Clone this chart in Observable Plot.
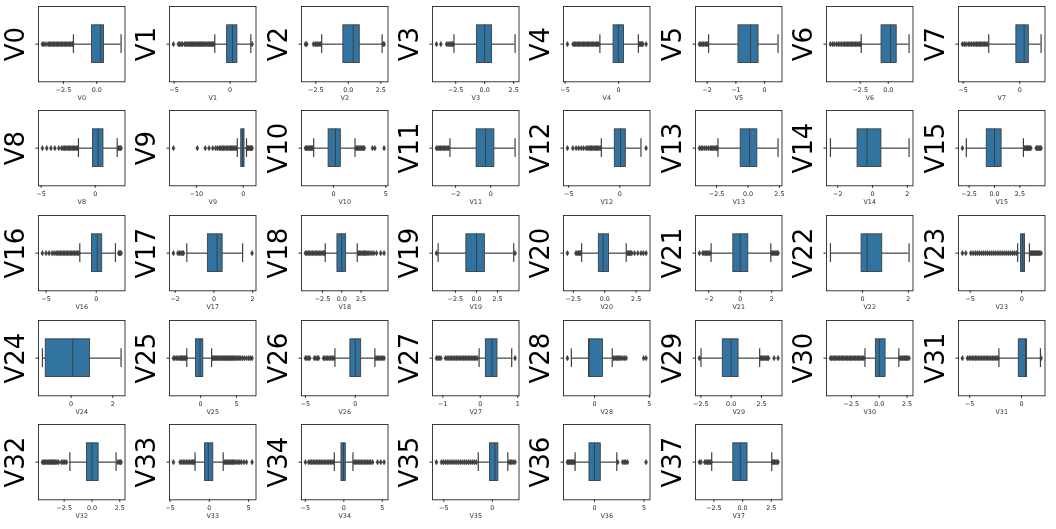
<!DOCTYPE html>
<html>
<head>
<meta charset="utf-8">
<script src="https://cdn.jsdelivr.net/npm/d3@7"></script>
<script src="https://cdn.jsdelivr.net/npm/@observablehq/plot@0.6"></script>
<style>
  body { margin: 0; background: #fff; }
  #chart { position: relative; width: 1056px; height: 529px; overflow: hidden; background: #fff; }
  #chart svg { position: absolute; will-change: transform; }
</style>
</head>
<body>
<div id="chart"></div>
<script>
const names = ["V0","V1","V2","V3","V4","V5","V6","V7","V8","V9","V10","V11","V12","V13","V14","V15","V16","V17","V18","V19",
  "V20","V21","V22","V23","V24","V25","V26","V27","V28","V29","V30","V31","V32","V33","V34","V35","V36","V37"];

const whiskerLow = [-1.75,-1.37,-2.05,-2.65,-1.75,-1.95,-2.41,-2.74,-1.55,-1.26,-1.9,-2.32,-1.81,-2.39,-2.42,-2.78,-1.64,-1.4,-2.14,-4.55,
  -1.84,-1.85,-1.4,-0.39,-1.38,-1.94,-2.04,-0.03,-2.12,-2.49,-1.28,-2.18,-1.99,-1.81,-1.23,-1.45,-1.95,-2.69];
const q1 = [-0.35,-0.27,-0.38,-0.67,-0.47,-0.91,-0.6,-0.3,-0.21,-0.42,-0.47,-0.8,-0.49,-0.58,-0.86,-0.76,-0.43,-0.31,-0.56,-1.2,
  -0.47,-0.44,-0.04,-0.06,-1.22,-0.65,-0.49,0.15,-0.52,-0.69,-0.3,-0.26,-0.45,-0.55,-0.3,-0.24,-0.5,-0.81];
const median = [0.3,0.21,0.38,0.0,-0.03,-0.49,0.21,0.39,0.27,-0.14,0.19,-0.29,0.07,0.13,-0.32,0.0,0.1,0.16,0.0,0.0,
  -0.13,0.0,0.2,0.1,0.08,-0.09,0.0,0.31,-0.5,0.0,0.0,0.38,0.0,-0.13,-0.05,0.28,0.0,-0.2];
const q3 = [0.55,0.65,0.88,0.64,0.5,-0.21,0.75,0.8,0.76,0.28,0.7,0.21,0.59,0.74,0.51,0.7,0.59,0.45,0.56,1.0,
  0.34,0.51,0.86,0.32,0.91,0.37,0.59,0.46,0.76,0.61,0.57,0.54,0.6,0.51,0.26,0.62,0.64,0.43];
const whiskerHigh = [1.83,1.85,2.6,2.62,1.84,0.47,1.85,1.88,2.03,0.7,2.06,1.39,2.07,2.39,2.1,2.85,1.91,1.48,2.0,4.42,
  1.71,1.94,2.03,0.75,2.4,1.53,1.97,0.84,1.61,2.35,1.76,1.83,2.17,1.77,1.19,1.59,2.25,2.54];

const outliers = [
  [-4.08,-3.97,-3.82,-3.65,-3.55,-3.45,-3.35,-3.25,-3.15,-3.05,-2.95,-2.85,-2.75,-2.65,-2.55,-2.45,-2.35,-2.25,-2.15,-2.05,-1.95,-1.85,-1.8],
  [-5.06,-4.62,-4.5,-4.38,-4.25,-4.05,-3.95,-3.85,-3.75,-3.65,-3.55,-3.45,-3.35,-3.25,-3.15,-3.05,-2.95,-2.85,-2.75,-2.65,-2.55,-2.45,-2.35,-2.25,-2.15,-2.05,-1.95,-1.85,-1.75,-1.65,-1.55,-1.45,1.96],
  [-3.3,-3.2,-2.68,-2.55,-2.45,-2.35,-2.25,-2.15,2.68,2.75],
  [-4.16,-3.78,-3.28,-3.15,-3.0,-2.9,-2.8,-2.72],
  [-4.78,-4.25,-4.12,-4.0,-3.88,-3.76,-3.64,-3.52,-3.4,-3.28,-3.16,-3.04,-2.92,-2.8,-2.68,-2.56,-2.44,-2.32,-2.2,-2.08,-1.96,-1.84,1.94,2.02,2.1,2.18,2.25,2.56],
  [-2.27,-2.22,-2.17,-2.12,-2.07,-2.02,-1.98],
  [-5.15,-4.95,-4.8,-4.6,-4.45,-4.3,-4.15,-4.0,-3.88,-3.76,-3.64,-3.52,-3.4,-3.28,-3.16,-3.04,-2.92,-2.8,-2.68,-2.56,-2.46],
  [-5.06,-4.9,-4.75,-4.55,-4.4,-4.25,-4.1,-3.95,-3.82,-3.7,-3.58,-3.46,-3.34,-3.22,-3.1,-2.98,-2.86],
  [-4.88,-4.48,-4.09,-3.73,-3.36,-3.1,-2.97,-2.85,-2.73,-2.61,-2.49,-2.37,-2.25,-2.13,-2.01,-1.89,-1.77,-1.65,2.12,2.2,2.3,2.39],
  [-14.9,-9.8,-8.1,-7.3,-6.5,-5.9,-5.5,-5.1,-4.8,-4.5,-4.2,-3.9,-3.6,-3.3,-3.0,-2.75,-2.5,-2.25,-2.0,-1.75,-1.5,0.84,1.0,1.2,1.4,1.6,1.75,1.89],
  [-2.69,-2.6,-2.5,-2.4,-2.3,-2.2,-2.1,-2.0,2.15,2.25,2.35,2.45,2.55,2.65,2.75,2.85,2.94,3.73,3.96,4.84],
  [-3.09,-3.0,-2.92,-2.85,-2.78,-2.7,-2.62,-2.55,-2.48,-2.4],
  [-5.13,-4.6,-4.28,-4.03,-3.78,-3.55,-3.29,-3.13,-3.0,-2.88,-2.76,-2.64,-2.52,-2.4,-2.28,-2.16,-2.04,-1.92,2.57],
  [-3.86,-3.72,-3.6,-3.45,-3.3,-3.15,-3.0,-2.9,-2.8,-2.7,-2.6,-2.5,-2.45],
  [],
  [-3.16,2.94,3.02,3.1,3.18,3.26,3.34,3.42,3.5,3.58,4.11,4.2,4.3,4.4,4.5,4.59],
  [-5.36,-5.0,-4.7,-4.4,-4.2,-4.0,-3.85,-3.7,-3.56,-3.42,-3.28,-3.14,-3.0,-2.86,-2.72,-2.58,-2.44,-2.3,-2.16,-2.02,-1.88,-1.74,2.24,2.32,2.4,2.47],
  [-2.09,-1.86,-1.78,-1.7,-1.62,-1.57,1.97],
  [-4.7,-4.52,-4.34,-4.16,-3.98,-3.8,-3.62,-3.44,-3.26,-3.08,-2.9,-2.72,-2.54,-2.36,-2.2,2.14,2.3,2.46,2.62,2.78,2.94,3.1,3.26,3.42,3.65,3.9,4.15,4.49,5.04,5.47],
  [-4.75,4.58],
  [-2.97,-2.29,-2.2,-2.1,-2.0,-1.92,1.79,1.88,1.97,2.06,2.15,2.37,2.63,2.89,3.08,3.29],
  [-2.59,-2.38,-2.3,-2.22,-2.14,-2.06,-1.98,-1.92,2.0,2.07,2.14,2.21,2.28,2.35,2.4],
  [],
  [-5.75,-5.42,-4.94,-4.72,-4.5,-4.3,-4.1,-3.9,-3.7,-3.5,-3.3,-3.1,-2.9,-2.7,-2.5,-2.3,-2.1,-1.9,-1.7,-1.5,-1.3,-1.1,-0.9,-0.7,-0.5,0.84,0.95,1.05,1.15,1.25,1.35,1.45,1.55,1.65,1.75,1.88],
  [],
  [-3.8,-3.6,-3.4,-3.2,-3.0,-2.85,-2.7,-2.55,-2.4,-2.25,-2.1,-2.0,1.67,1.8,1.95,2.1,2.25,2.4,2.55,2.7,2.85,3.0,3.15,3.3,3.45,3.6,3.75,3.9,4.05,4.2,4.35,4.5,4.65,4.8,5.0,5.2,5.4,5.6,5.85,6.1,6.4,6.7,6.95,7.18],
  [-5.0,-4.85,-4.7,-4.57,-4.11,-3.95,-3.8,-3.68,-3.19,-3.05,-2.9,-2.75,-2.6,-2.45,-2.3,-2.15,2.07,2.2,2.35,2.5,2.65,2.78,2.89],
  [-1.17,-1.13,-1.09,-1.05,-0.93,-0.88,-0.84,-0.8,-0.76,-0.72,-0.68,-0.64,-0.6,-0.56,-0.52,-0.48,-0.44,-0.4,-0.36,-0.32,-0.28,-0.24,-0.2,-0.16,-0.12,-0.08,0.93],
  [-2.48,1.73,1.85,1.97,2.1,2.2,2.3,2.42,2.58,2.72,2.88,4.48,4.7],
  [-2.62,2.43,2.52,2.61,2.7,2.8,2.9,3.0,3.09,3.54,3.87],
  [-4.38,-4.26,-4.14,-4.02,-3.9,-3.78,-3.66,-3.54,-3.42,-3.3,-3.18,-3.06,-2.94,-2.82,-2.7,-2.58,-2.46,-2.34,-2.22,-2.1,-1.98,-1.86,-1.74,-1.62,-1.5,-1.38,1.85,1.95,2.05,2.15,2.25,2.35,2.45,2.55,2.68],
  [-5.7,-5.22,-5.05,-4.9,-4.75,-4.6,-4.45,-4.3,-4.15,-4.0,-3.85,-3.7,-3.55,-3.4,-3.25,-3.1,-2.95,-2.8,-2.65,-2.5,-2.35,-2.25,1.89],
  [-4.46,-4.35,-4.25,-4.15,-4.05,-3.95,-3.85,-3.75,-3.65,-3.55,-3.45,-3.35,-3.25,-3.15,-3.0,-2.74,-2.6,-2.45,-2.3,2.32,2.45,2.55,2.62],
  [-4.56,-3.71,-3.5,-3.3,-3.1,-2.9,-2.7,-2.5,-2.3,-2.15,-2.03,-1.92,1.9,2.05,2.2,2.35,2.5,2.65,2.8,2.95,3.1,3.25,3.46,3.67,3.88,4.09,4.4,4.73,5.44],
  [-4.98,-4.55,-4.35,-4.15,-3.95,-3.75,-3.55,-3.35,-3.15,-2.95,-2.75,-2.55,-2.35,-2.15,-1.95,-1.75,-1.55,-1.36,1.32,1.5,1.7,1.9,2.1,2.3,2.5,2.7,2.9,3.1,3.3,3.5,3.74,4.38,4.8,5.23],
  [-5.76,-5.24,-5.05,-4.85,-4.65,-4.45,-4.25,-4.05,-3.85,-3.65,-3.45,-3.25,-3.05,-2.85,-2.65,-2.45,-2.25,-2.05,-1.85,-1.65,1.72,1.85,2.0,2.15,2.34],
  [-2.72,-2.62,-2.52,-2.42,-2.32,-2.22,-2.12,-2.03,2.35,2.85,3.0,3.15,3.32,5.2],
  [-3.76,-3.62,-3.3,-3.18,-3.06,-2.95,-2.85,-2.75,2.6,2.7,2.8,2.9,3.0,3.09]
];

const tickValues = [
  [-2.5,0],[-5,0],[-2.5,0,2.5],[-2.5,0,2.5],[-5,0],[-2,-1,0],[-2.5,0],[-5,0],
  [-5,0],[-10,0],[0,5],[-2,0],[-5,0],[-2.5,0,2.5],[-2,0,2],[-2.5,0,2.5],
  [-5,0],[-2,0,2],[-2.5,0,2.5],[-2.5,0,2.5],[-2.5,0,2.5],[-2,0,2],[0,2],[-5,0],
  [0,2],[0,5],[-5,0],[-1,0,1],[0,5],[-2.5,0,2.5],[-2.5,0,2.5],[-5,0],
  [-2.5,0,2.5],[-5,0,5],[-5,0,5],[-5,0],[0,5],[-2.5,0,2.5]
];
const decimalTicks = [true,false,true,true,false,false,true,false,
  false,false,false,false,false,true,false,true,
  false,false,true,true,true,false,false,false,
  false,false,false,false,false,true,true,false,
  true,false,false,false,false,true];

// layout
const COLS = 8, COL_STEP = 131.4, ROW_STEP = 104.6, FRAME_L0 = 37.7, FRAME_T0 = 5.7;
const ML = 38, MR = 4.5, MT = 4, MB = 24.7, W = 129, H = 104;
const BOX = "#3274a1", GRAY = "#3f3f3f", INK = "#262626";

const chart = document.getElementById("chart");

names.forEach((name, i) => {
  const r = Math.floor(i / COLS), c = i % COLS;
  const pts = outliers[i];
  const lo = Math.min(whiskerLow[i], ...pts);
  const hi = Math.max(whiskerHigh[i], ...pts);
  const pad = (hi - lo) * 0.05;
  const fmt = decimalTicks[i] ? d3.format(".1f") : d3.format("d");
  const whiskers = [{a: whiskerLow[i], b: q1[i]}, {a: q3[i], b: whiskerHigh[i]}];
  const box = [{a: q1[i], b: q3[i]}];

  const svg = Plot.plot({
    width: W, height: H,
    marginLeft: ML, marginRight: MR, marginTop: MT, marginBottom: MB,
    style: {fontFamily: "'DejaVu Sans', sans-serif", fontSize: "6.4px", background: "transparent", overflow: "visible", color: INK},
    x: {domain: [lo - pad, hi + pad], ticks: tickValues[i], tickFormat: fmt, tickSize: 2.5, tickPadding: 3.2, label: null},
    y: {domain: [-0.5, 0.5], ticks: [0], tickFormat: () => "", tickSize: 2.5, label: null},
    marks: [
      Plot.ruleY(whiskers, {x1: "a", x2: "b", y: 0, stroke: GRAY, strokeWidth: 1.2}),
      Plot.ruleX([whiskerLow[i], whiskerHigh[i]], {x: d => d, y1: -0.125, y2: 0.125, stroke: GRAY, strokeWidth: 1.2}),
      Plot.rect(box, {x1: "a", x2: "b", y1: -0.25, y2: 0.25, fill: BOX, stroke: GRAY, strokeWidth: 0.9}),
      Plot.ruleX([median[i]], {x: d => d, y1: -0.25, y2: 0.25, stroke: GRAY, strokeWidth: 1.0}),
      Plot.dot(pts, {x: d => d, y: 0, symbol: "diamond", r: 1.75, fill: GRAY, stroke: GRAY, strokeWidth: 0.3}),
      Plot.frame({stroke: INK, strokeWidth: 0.9}),
      Plot.text([name], {frameAnchor: "left", dx: -22.5, rotate: -90, textAnchor: "middle", lineAnchor: "middle", fontSize: 26, fill: "#000"}),
      Plot.text([name], {frameAnchor: "bottom", dy: 18.3, textAnchor: "middle", fontSize: 6.4, fill: "#333"})
    ]
  });
  svg.style.left = (FRAME_L0 + c * COL_STEP - ML) + "px";
  svg.style.top = (FRAME_T0 + r * ROW_STEP - MT) + "px";
  chart.appendChild(svg);
});
</script>
</body>
</html>
